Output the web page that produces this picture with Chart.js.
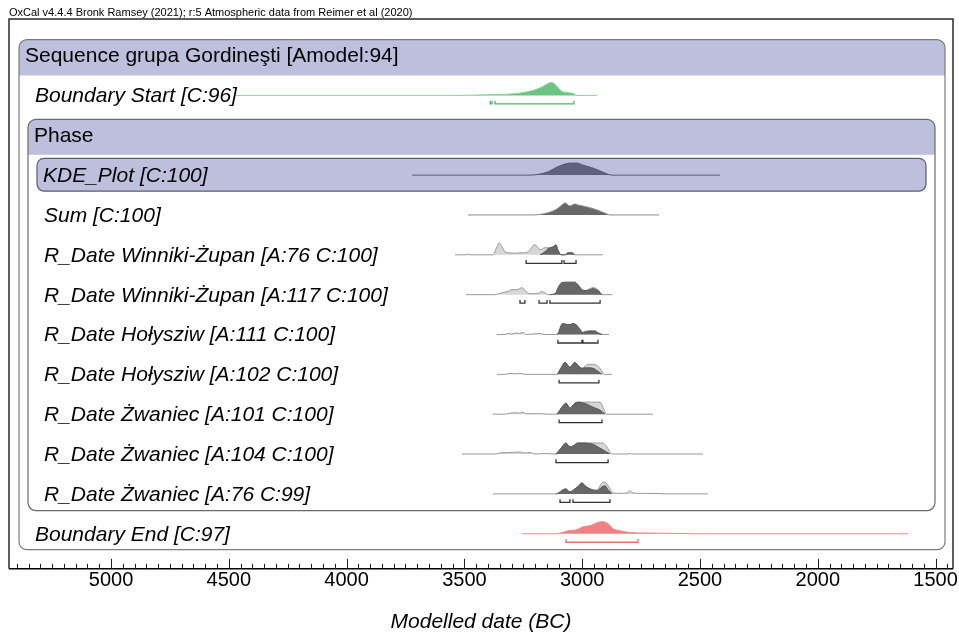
<!DOCTYPE html>
<html><head><meta charset="utf-8">
<script src="https://cdn.jsdelivr.net/npm/chart.js@4.4.0/dist/chart.umd.min.js"></script>
<style>html,body{margin:0;padding:0;background:#fff;}</style>
</head><body>
<canvas id="c" width="959" height="635"></canvas>
<script>
// ---------- data (years BC, relative probability) ----------
const headerText = 'OxCal v4.4.4 Bronk Ramsey (2021); r:5 Atmospheric data from Reimer et al (2020)';
const axisTitle = 'Modelled date (BC)';
const ticksMajor = [5000, 4500, 4000, 3500, 3000, 2500, 2000, 1500];
const rowLabels = [
  'Sequence grupa Gordineşti [Amodel:94]',
  'Boundary Start [C:96]',
  'Phase',
  'KDE_Plot [C:100]',
  'Sum [C:100]',
  'R_Date Winniki-Żupan [A:76 C:100]',
  'R_Date Winniki-Żupan [A:117 C:100]',
  'R_Date Hołysziw [A:111 C:100]',
  'R_Date Hołysziw [A:102 C:100]',
  'R_Date Żwaniec [A:101 C:100]',
  'R_Date Żwaniec [A:104 C:100]',
  'R_Date Żwaniec [A:76 C:99]',
  'Boundary End [C:97]'
];

const startYears = [4474, 3519, 3434, 3362, 3277, 3209, 3166, 3145, 3128, 3115, 3103, 3086, 3069, 3039, 3022, 2937];
const startDens  = [0, 0, 0.5, 0.8, 2, 5, 9, 12, 13, 11, 8, 4, 3, 2, 0, 0];
const startRanges = [[3390, 3383], [3370, 3035]];

const kdeYears = [3722, 3222, 3149, 3107, 3073, 3052, 3022, 2997, 2954, 2912, 2873, 2415];
const kdeDens  = [0, 0, 3, 8, 11, 12, 12, 10, 7, 3, 0, 0];

const sumYears = [3485, 3213, 3149, 3107, 3086, 3073, 3052, 3031, 3018, 2980, 2937, 2895, 2882, 2674];
const sumDens  = [0, 0, 2, 6, 10, 12, 9, 11, 10, 8, 5, 1, 0, 0];

const w1PriorYears = [3540, 3493, 3485, 3476, 3379, 3362, 3353, 3340, 3328, 3306, 3285, 3264, 3243, 3221, 3209, 3200, 3187, 3179, 3158, 3137, 3115, 3103, 3090, 3073, 3060, 3043, 3031, 2912];
const w1PriorDens  = [0, 0, 0.6, 0, 0, 8, 12, 8, 3, 2, 1.5, 2, 2, 5, 9, 10, 7, 5, 7, 7, 7, 4, 0, 0, 2, 2, 0, 0];
const w1PostYears = [3179, 3158, 3145, 3124, 3111, 3103, 3090, 3073, 3060, 3043, 3031];
const w1PostDens  = [0, 3, 6, 8, 10, 5, 0, 0, 2, 2, 0];
const w1Ranges = [[3238, 3086], [3077, 3026]];

const w2PriorYears = [3493, 3370, 3340, 3319, 3298, 3277, 3255, 3243, 3221, 3192, 3171, 3158, 3145, 3115, 3098, 3086, 3064, 3031, 3018, 3001, 2988, 2967, 2954, 2933, 2916, 2873];
const w2PriorDens  = [0, 0, 2, 3, 5, 5, 7, 4, 1, 1, 3, 2, 0, 1, 8, 10, 10, 10, 9, 5, 4, 6, 7, 5, 0, 0];
const w2PostYears = [3137, 3115, 3098, 3086, 3064, 3031, 3018, 3001, 2988, 2967, 2954, 2933, 2916];
const w2PostDens  = [0, 1, 9, 12, 12.5, 12.5, 10, 5, 4, 5, 6, 4, 0];
const w2Ranges = [[3264, 3243], [3183, 3149], [3137, 2924]];

const h1PriorYears = [3362, 3328, 3315, 3298, 3281, 3268, 3251, 3238, 3179, 3162, 3115, 3103, 3090, 3081, 3064, 3052, 3039, 3022, 3009, 2997, 2988, 2967, 2946, 2933, 2916, 2886];
const h1PriorDens  = [0, 0, 1, 0.5, 1.5, 1, 2, 0, 1, 0, 0, 1, 8, 10, 9, 9, 10, 8, 4, 2, 3, 4, 4, 2, 0, 0];
const h1PostYears = [3107, 3098, 3090, 3081, 3064, 3052, 3039, 3022, 3009, 2997, 2988, 2967, 2946, 2933, 2916];
const h1PostDens  = [0, 3, 9, 11, 10, 10, 11, 9, 5, 2, 2.5, 3, 3, 1.5, 0];
const h1Ranges = [[3103, 3001], [2997, 2933]];

const h2PriorYears = [3362, 3328, 3306, 3285, 3264, 3243, 3115, 3103, 3086, 3073, 3052, 3031, 3018, 3001, 2988, 2975, 2954, 2933, 2916, 2907, 2873];
const h2PriorDens  = [0, 0, 1, 0.5, 1, 0, 0, 1, 8, 12, 7, 12, 9, 6, 8, 10, 10, 8, 3, 0, 0];
const h2PostYears = [3107, 3103, 3086, 3073, 3052, 3031, 3018, 3001, 2988, 2975, 2954, 2933, 2916];
const h2PostDens  = [0, 1, 8, 12, 7, 12, 9, 6, 6.5, 6.5, 6, 3, 0];
const h2Ranges = [[3098, 2929]];

const z1PriorYears = [3379, 3328, 3306, 3285, 3264, 3251, 3238, 3179, 3137, 3107, 3086, 3069, 3052, 3031, 3018, 2997, 2967, 2924, 2912, 2895, 2700];
const z1PriorDens  = [0, 0, 1, 1.5, 1, 2, 0.5, 0.5, 0, 0, 7, 11, 6, 11, 12, 12, 12, 12, 7, 0, 0];
const z1PostYears = [3107, 3086, 3069, 3052, 3031, 3018, 2980, 2954, 2924, 2903];
const z1PostDens  = [0, 7, 11, 6, 11, 12, 10, 7, 4, 0];
const z1Ranges = [[3098, 2916]];

const z2PriorYears = [3510, 3370, 3349, 3306, 3264, 3243, 3221, 3200, 3158, 3115, 3107, 3086, 3069, 3052, 3039, 3018, 2997, 2980, 2958, 2933, 2912, 2895, 2873, 2806, 2797, 2789, 2487];
const z2PriorDens  = [0, 0, 1, 1.5, 2, 1, 1.5, 0, 0.5, 0, 0, 7, 11, 7, 8, 11, 11, 11, 11, 11, 11, 7, 0, 0, 0.8, 0, 0];
const z2PostYears = [3111, 3086, 3069, 3052, 3039, 3018, 2997, 2958, 2933, 2903, 2882];
const z2PostDens  = [0, 7, 11, 7, 8, 11, 11, 10, 7, 3, 0];
const z2Ranges = [[3111, 2890]];

const z3PriorYears = [3379, 3158, 3115, 3103, 3081, 3069, 3052, 3031, 3014, 3001, 2988, 2967, 2937, 2916, 2903, 2895, 2882, 2869, 2840, 2810, 2797, 2784, 2755, 2712, 2670, 2649, 2466];
const z3PriorDens  = [0, 0, 0, 0.5, 4, 5, 2, 5, 8, 11, 8, 5, 4, 11, 12, 10, 5, 1, 0.5, 1, 3, 1, 0.5, 0.5, 0.3, 0, 0];
const z3PostYears = [3111, 3103, 3081, 3069, 3052, 3031, 3014, 3001, 2988, 2967, 2937, 2916, 2903, 2890, 2873];
const z3PostDens  = [0, 0.5, 4, 5, 2, 5, 8, 11, 8, 5, 3, 7, 8, 4, 0];
const z3Ranges = [[3094, 3052], [3039, 2882]];

const endYears = [3255, 3115, 3086, 3060, 3022, 2997, 2967, 2937, 2912, 2890, 2869, 2840, 2797, 2725, 2670, 2585, 2530, 1617];
const endDens  = [0, 0, 1, 3, 4, 7, 8, 11, 12, 10, 5, 3, 1.3, 0.7, 0.5, 0.3, 0, 0];
const endRanges = [[3069, 2763]];

// ---------- helpers ----------
const FONT = "'Liberation Sans', Arial, Helvetica, sans-serif";
const ROW_PX = 39.75;
const DENS_SCALE = 1 / ROW_PX;
const BR_OFF = 8.5 / ROW_PX, BR_TICK = 3.2 / ROW_PX;

function series(years, dens, row) {
  return years.map((x, i) => ({x: x, y: row - dens[i] * DENS_SCALE}));
}
function bracket(ranges, row) {
  const pts = [];
  ranges.forEach(([a, b]) => {
    pts.push({x: a, y: row + BR_OFF - BR_TICK}, {x: a, y: row + BR_OFF},
             {x: b, y: row + BR_OFF}, {x: b, y: row + BR_OFF - BR_TICK},
             {x: (a + b) / 2, y: null});
  });
  return pts;
}
const common = {pointRadius: 0, pointHoverRadius: 0, borderWidth: 1, cubicInterpolationMode: 'monotone', spanGaps: false};
function dist(years, dens, row, border, fill, order) {
  return Object.assign({}, common, {data: series(years, dens, row), borderColor: border, backgroundColor: fill, fill: {value: row}, order: order});
}
function brk(ranges, row, color) {
  return Object.assign({}, common, {data: bracket(ranges, row), borderColor: color, borderWidth: 1.3, fill: false, order: 0, cubicInterpolationMode: 'default', tension: 0});
}

const PRIOR_B = '#9a9a9a', PRIOR_F = '#d6d6d6', POST_B = '#555555', POST_F = '#676767', BR_C = '#333333';
const rowsRD = [
  [w1PriorYears, w1PriorDens, w1PostYears, w1PostDens, w1Ranges, 5],
  [w2PriorYears, w2PriorDens, w2PostYears, w2PostDens, w2Ranges, 6],
  [h1PriorYears, h1PriorDens, h1PostYears, h1PostDens, h1Ranges, 7],
  [h2PriorYears, h2PriorDens, h2PostYears, h2PostDens, h2Ranges, 8],
  [z1PriorYears, z1PriorDens, z1PostYears, z1PostDens, z1Ranges, 9],
  [z2PriorYears, z2PriorDens, z2PostYears, z2PostDens, z2Ranges, 10],
  [z3PriorYears, z3PriorDens, z3PostYears, z3PostDens, z3Ranges, 11]
];

const datasets = [];
datasets.push(dist(startYears, startDens, 1, '#86d69b', '#6dc384', 2));
datasets.push(brk(startRanges, 1, '#4fb56b'));
datasets.push(dist(kdeYears, kdeDens, 3, '#5a5a78', '#60607f', 2));
datasets.push(dist(sumYears, sumDens, 4, '#8a8a8a', '#676767', 2));
rowsRD.forEach(([py, pd, qy, qd, rg, row]) => {
  datasets.push(dist(py, pd, row, PRIOR_B, PRIOR_F, 3));
  datasets.push(dist(qy, qd, row, POST_B, POST_F, 2));
  datasets.push(brk(rg, row, BR_C));
});
datasets.push(dist(endYears, endDens, 12, '#f28a8a', '#f28080', 2));
datasets.push(brk(endRanges, 12, '#ee6e6e'));

// ---------- drawing plugin (boxes, labels, frame, ticks) ----------
function rr(ctx, x1, y1, x2, y2, r) {
  ctx.beginPath();
  ctx.moveTo(x1 + r, y1);
  ctx.lineTo(x2 - r, y1); ctx.arcTo(x2, y1, x2, y1 + r, r);
  ctx.lineTo(x2, y2 - r); ctx.arcTo(x2, y2, x2 - r, y2, r);
  ctx.lineTo(x1 + r, y2); ctx.arcTo(x1, y2, x1, y2 - r, r);
  ctx.lineTo(x1, y1 + r); ctx.arcTo(x1, y1, x1 + r, y1, r);
  ctx.closePath();
}
function groupBox(ctx, x1, y1, x2, y2, bandBottom, fill, stroke, r) {
  ctx.save();
  rr(ctx, x1, y1, x2, y2, r);
  ctx.fillStyle = '#ffffff'; ctx.fill();
  ctx.clip();
  ctx.fillStyle = fill;
  ctx.fillRect(x1, y1, x2 - x1, bandBottom - y1);
  ctx.restore();
  ctx.save();
  rr(ctx, x1, y1, x2, y2, r);
  ctx.strokeStyle = stroke; ctx.lineWidth = 1.2; ctx.stroke();
  ctx.restore();
}
const LAV = '#bebedd';
const oxcal = {
  id: 'oxcal',
  beforeDatasetsDraw(chart) {
    const {ctx, chartArea: ca, scales: {y}} = chart;
    const Y = v => y.getPixelForValue(v);
    groupBox(ctx, ca.left + 10, Y(-0.4), ca.right - 8, Y(12.4), Y(0.5), LAV, '#7c7c7c', 8);
    groupBox(ctx, ca.left + 19, Y(1.6), ca.right - 18, Y(11.42), Y(2.49), LAV, '#6a6a6a', 8);
    ctx.save();
    rr(ctx, ca.left + 28, Y(2.58), ca.right - 27, Y(3.4), 7);
    ctx.fillStyle = LAV; ctx.fill();
    ctx.strokeStyle = '#5c5c6c'; ctx.lineWidth = 1.2; ctx.stroke();
    ctx.restore();
  },
  afterDatasetsDraw(chart) {
    const {ctx, chartArea: ca, scales: {x, y}} = chart;
    ctx.save();
    // row labels
    ctx.fillStyle = '#000';
    ctx.textBaseline = 'middle';
    ctx.textAlign = 'left';
    const indent = [16, 26, 25, 34, 35, 35, 35, 35, 35, 35, 35, 35, 26];
    rowLabels.forEach((t, i) => {
      const italic = !(i === 0 || i === 2);
      ctx.font = (italic ? 'italic ' : '') + '21px ' + FONT;
      ctx.fillText(t, ca.left + indent[i], y.getPixelForValue(i) + 1);
    });
    // header
    ctx.font = '11px ' + FONT;
    ctx.fillText(headerText, 9, ca.top - 6);
    // frame
    ctx.strokeStyle = '#2a2a2a';
    ctx.lineWidth = 1.5;
    ctx.beginPath();
    ctx.moveTo(ca.left, ca.bottom); ctx.lineTo(ca.left, ca.top); ctx.lineTo(ca.right, ca.top); ctx.lineTo(ca.right, ca.bottom);
    ctx.stroke();
    ctx.strokeStyle = '#000';
    ctx.beginPath();
    ctx.moveTo(ca.left, ca.bottom); ctx.lineTo(ca.right, ca.bottom);
    ctx.stroke();
    // ticks (major 500, minor 50)
    ctx.lineWidth = 1;
    ctx.strokeStyle = '#222';
    for (let v = 1450; v <= 5400; v += 50) {
      const px = Math.round(x.getPixelForValue(v)) + 0.5;
      if (px < ca.left + 2 || px > ca.right - 2) continue;
      const len = (v % 500 === 0) ? 10 : 5;
      ctx.beginPath(); ctx.moveTo(px, ca.bottom); ctx.lineTo(px, ca.bottom - len); ctx.stroke();
    }
    ctx.restore();
  }
};

Chart.defaults.font.family = FONT;
new Chart(document.getElementById('c'), {
  type: 'line',
  data: {datasets: datasets},
  options: {
    responsive: false,
    animation: false,
    devicePixelRatio: 1,
    layout: {padding: {left: 9, right: 6, top: 19, bottom: 0}},
    plugins: {legend: {display: false}, tooltip: {enabled: false}},
    scales: {
      x: {
        type: 'linear', reverse: true, min: 1426, max: 5433,
        afterBuildTicks: s => { s.ticks = ticksMajor.map(v => ({value: v})); },
        ticks: {font: {size: 20, family: FONT}, color: '#000', padding: 0, maxRotation: 0, autoSkip: false, callback: v => String(v)},
        grid: {display: false, drawTicks: false, tickLength: 0},
        border: {display: false},
        title: {display: true, text: axisTitle, color: '#000', font: {size: 21, style: 'italic', family: FONT}, padding: {top: 17, bottom: 0}}
      },
      y: {type: 'linear', reverse: true, min: -0.918, max: 12.88, display: false}
    }
  },
  plugins: [oxcal]
});
</script>
</body></html>
